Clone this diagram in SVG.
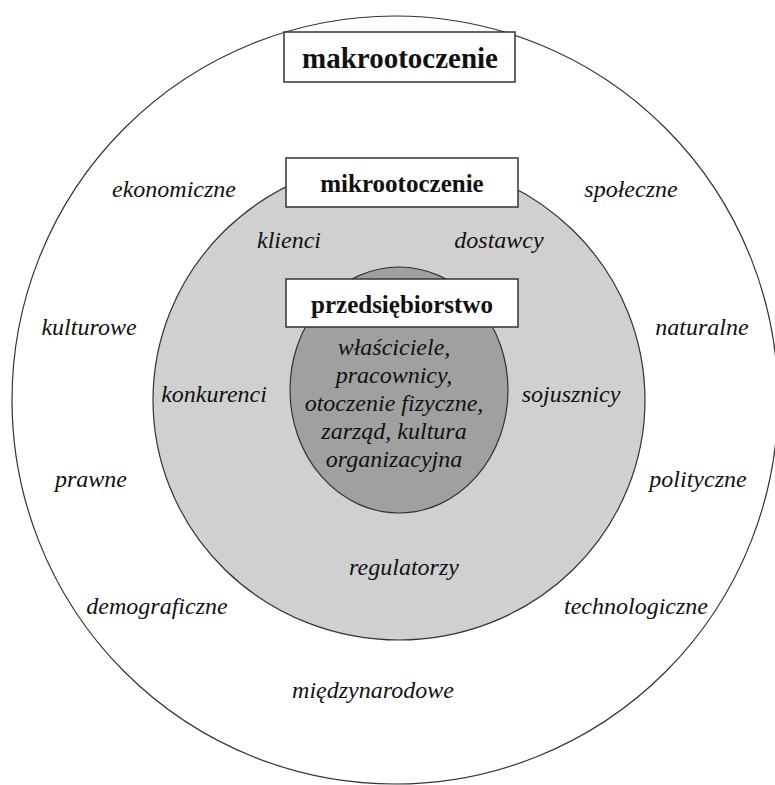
<svg xmlns="http://www.w3.org/2000/svg" width="775" height="785" viewBox="0 0 775 785">
<style>
.ring{stroke:#333;stroke-width:1.2}
.box{fill:#fff;stroke:#333;stroke-width:1.5}
text{font-family:"Liberation Serif",serif !important;fill:#111;text-anchor:middle}
.b{font-weight:bold}
.i{font-style:italic;font-size:24px}
</style>
<rect width="775" height="785" fill="#fff"/>
<g id="makro">
<ellipse class="ring" cx="395" cy="400" rx="383" ry="384" fill="#fff"/>
</g>
<g id="mikro">
<ellipse class="ring" cx="399" cy="400" rx="246" ry="240" fill="#d0d0d0"/>
</g>
<g id="przedsiebiorstwo">
<ellipse class="ring" cx="399" cy="390" rx="109" ry="123" fill="#a0a0a0"/>
</g>
<g id="label-makro">
<rect class="box" x="284" y="32" width="231" height="50"/>
<text class="b" x="400" y="68" font-size="29">makrootoczenie</text>
</g>
<g id="label-mikro">
<rect class="box" x="286" y="158" width="232" height="49"/>
<text class="b" x="402" y="192" font-size="25">mikrootoczenie</text>
</g>
<g id="label-przeds">
<rect class="box" x="286" y="279" width="232" height="48"/>
<text class="b" x="402" y="313" font-size="25">przedsiębiorstwo</text>
</g>
<g id="macro-factors">
<text class="i" x="174" y="197">ekonomiczne</text>
<text class="i" x="631" y="197">społeczne</text>
<text class="i" x="89" y="335">kulturowe</text>
<text class="i" x="702" y="335">naturalne</text>
<text class="i" x="91" y="487">prawne</text>
<text class="i" x="698" y="487">polityczne</text>
<text class="i" x="157" y="614">demograficzne</text>
<text class="i" x="636" y="614">technologiczne</text>
<text class="i" x="373" y="698">międzynarodowe</text>
</g>
<g id="micro-factors">
<text class="i" x="289" y="248">klienci</text>
<text class="i" x="499" y="248">dostawcy</text>
<text class="i" x="214" y="402">konkurenci</text>
<text class="i" x="571" y="402">sojusznicy</text>
<text class="i" x="404" y="575">regulatorzy</text>
</g>
<g id="internal-factors">
<text class="i" x="394" y="355">właściciele,</text>
<text class="i" x="394" y="383">pracownicy,</text>
<text class="i" x="394" y="411">otoczenie fizyczne,</text>
<text class="i" x="394" y="439">zarząd, kultura</text>
<text class="i" x="394" y="467">organizacyjna</text>
</g>
<g id="connectors"></g>
</svg>
